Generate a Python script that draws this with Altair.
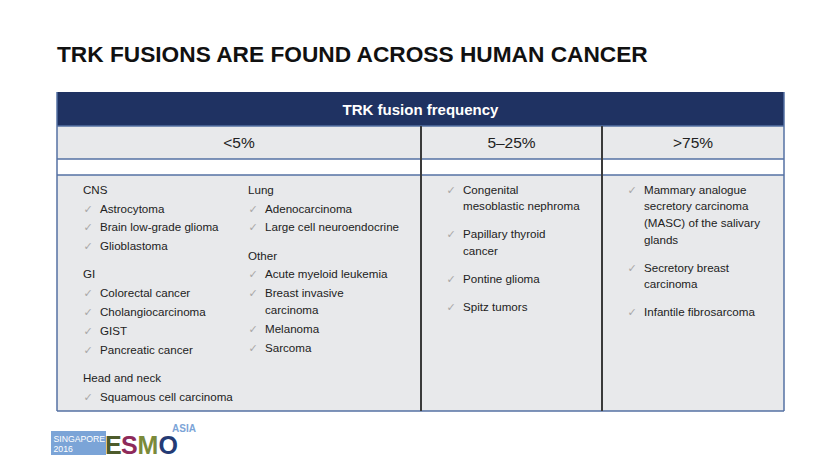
import altair as alt
import pandas as pd

# ---------------- content ----------------
TITLE = "TRK FUSIONS ARE FOUND ACROSS HUMAN CANCER"
HEADER = "TRK fusion frequency"
FREQ_BANDS = ["<5%", "5–25%", ">75%"]

LOW_LEFT = [
    ("CNS", [["Astrocytoma"], ["Brain low-grade glioma"], ["Glioblastoma"]]),
    ("GI", [["Colorectal cancer"], ["Cholangiocarcinoma"], ["GIST"], ["Pancreatic cancer"]]),
    ("Head and neck", [["Squamous cell carcinoma"]]),
]
LOW_RIGHT = [
    ("Lung", [["Adenocarcinoma"], ["Large cell neuroendocrine"]]),
    ("Other", [["Acute myeloid leukemia"], ["Breast invasive", "carcinoma"], ["Melanoma"], ["Sarcoma"]]),
]
MID = [["Congenital", "mesoblastic nephroma"], ["Papillary thyroid", "cancer"],
       ["Pontine glioma"], ["Spitz tumors"]]
HIGH = [["Mammary analogue", "secretory carcinoma", "(MASC) of the salivary", "glands"],
        ["Secretory breast", "carcinoma"], ["Infantile fibrosarcoma"]]

CHECK = "✓"
LOGO_BOX = ["SINGAPORE", "2016"]
LOGO_LETTERS = ["E", "S", "M", "O"]
LOGO_COLORS = ["#4d5b2b", "#8e2a5a", "#7b8a3a", "#243b75"]
LOGO_TAG = "ASIA"

# ---------------- layout ----------------
FONT = "Liberation Sans, Arial, Helvetica, sans-serif"
W, H = 814, 451
TL, TR, C1, C2 = 57, 784, 421, 602
Y_TOP, Y_H1, Y_H2, Y_H3, Y_BOT = 92, 126, 159, 175, 411
LINE, WRAP, GAP, Y0 = 18.85, 16.6, 9.3, 190.7
NAVY = "#1f3262"
GREY = "#e8e9eb"
BLUE_LINE = "#5470a3"
TXT = "#222222"

xs = alt.Scale(domain=[8, 8 + W], nice=False, zero=False)
ys = alt.Scale(domain=[8, 8 + H], nice=False, zero=False, reverse=True)


def flow(blocks, y):
    out = []
    first = True
    for kind, lines, gap in blocks:
        if not first:
            y += LINE + (GAP if gap else 0)
        first = False
        for j, ln in enumerate(lines):
            if j:
                y += WRAP
            out.append((kind, ln, y, j == 0))
    return out


def grouped(groups):
    blocks = []
    for i, (g, items) in enumerate(groups):
        blocks.append(("head", [g], i > 0))
        for it in items:
            blocks.append(("item", it, False))
    return blocks


def plain(items):
    return [("item", it, i > 0) for i, it in enumerate(items)]


body_rows, check_rows = [], []
for blocks, x_head, x_item in [
    (grouped(LOW_LEFT), 83, 100),
    (grouped(LOW_RIGHT), 248, 265),
    (plain(MID), None, 463),
    (plain(HIGH), None, 644),
]:
    for kind, txt, y, firstline in flow(blocks, Y0):
        x = x_head if kind == "head" else x_item
        body_rows.append({"t": txt, "x": x, "y": y})
        if kind == "item" and firstline:
            check_rows.append({"t": CHECK, "x": x_item - 12, "y": y})

body_df = pd.DataFrame(body_rows)
check_df = pd.DataFrame(check_rows)

rects = pd.DataFrame([
    {"x": TL, "x2": TR, "y": Y_TOP, "y2": Y_H1, "c": NAVY},
    {"x": TL, "x2": TR, "y": Y_H1, "y2": Y_H2, "c": GREY},
    {"x": TL, "x2": TR, "y": Y_H2, "y2": Y_H3, "c": "#ffffff"},
    {"x": TL, "x2": TR, "y": Y_H3, "y2": Y_BOT, "c": GREY},
    {"x": 51, "x2": 106, "y": 431, "y2": 455, "c": "#7ba4d7"},
])

hlines = pd.DataFrame([
    {"x": TL, "x2": TR, "y": Y_H1, "y2": Y_H1},
    {"x": TL, "x2": TR, "y": Y_H2, "y2": Y_H2},
    {"x": TL, "x2": TR, "y": Y_H3, "y2": Y_H3},
    {"x": TL, "x2": TR, "y": Y_BOT, "y2": Y_BOT},
    {"x": TL, "x2": TL, "y": Y_TOP, "y2": Y_BOT},
    {"x": TR, "x2": TR, "y": Y_TOP, "y2": Y_BOT},
])
vlines = pd.DataFrame([
    {"x": C1, "x2": C1, "y": Y_H1, "y2": Y_BOT},
    {"x": C2, "x2": C2, "y": Y_H1, "y2": Y_BOT},
])

X = lambda f="x": alt.X(f + ":Q", scale=xs, axis=None)
Y = lambda f="y": alt.Y(f + ":Q", scale=ys, axis=None)

rect_layer = alt.Chart(rects).mark_rect().encode(
    x=X(), x2="x2:Q", y=Y(), y2="y2:Q", color=alt.Color("c:N", scale=None)
)
hline_layer = alt.Chart(hlines).mark_rule(color=BLUE_LINE, strokeWidth=1.5).encode(
    x=X(), x2="x2:Q", y=Y(), y2="y2:Q"
)
vline_layer = alt.Chart(vlines).mark_rule(color="#3a3a3a", strokeWidth=2).encode(
    x=X(), x2="x2:Q", y=Y(), y2="y2:Q"
)


def text_layer(df, **kw):
    base = dict(font=FONT, baseline="middle", align="left")
    base.update(kw)
    return alt.Chart(df).mark_text(**base).encode(x=X(), y=Y(), text="t:N")


title_layer = text_layer(pd.DataFrame([{"t": TITLE, "x": TL, "y": 55}]),
                         fontSize=22.7, fontWeight="bold", color="#111111")
header_layer = text_layer(pd.DataFrame([{"t": HEADER, "x": (TL + TR) / 2, "y": 110}]),
                          fontSize=15, fontWeight="bold", color="#ffffff", align="center")
band_layer = text_layer(pd.DataFrame({"t": FREQ_BANDS,
                                      "x": [(TL + C1) / 2, (C1 + C2) / 2, (C2 + TR) / 2],
                                      "y": [143] * 3}),
                        fontSize=15.5, color=TXT, align="center")
body_layer = text_layer(body_df, fontSize=11.6, color=TXT)
check_layer = text_layer(check_df, fontSize=11, color="#a8a8a8", align="center",
                         font="DejaVu Sans")

logo_box_layer = text_layer(pd.DataFrame({"t": LOGO_BOX, "x": [53.5, 53.5], "y": [438.5, 449]}),
                            fontSize=8.7, color="#ffffff")
logo_letters_layer = alt.Chart(pd.DataFrame({"t": LOGO_LETTERS, "c": LOGO_COLORS,
                                             "x": [105, 121, 137.5, 158.5],
                                             "y": [453.5] * 4})).mark_text(
    font=FONT, fontSize=25, fontWeight="bold", align="left", baseline="alphabetic"
).encode(x=X(), y=Y(), text="t:N", color=alt.Color("c:N", scale=None))
logo_tag_layer = text_layer(pd.DataFrame([{"t": LOGO_TAG, "x": 172, "y": 428.5}]),
                            fontSize=10, fontWeight="bold", color="#7ba4d7")

chart = alt.layer(
    rect_layer, hline_layer, vline_layer,
    title_layer, header_layer, band_layer, body_layer, check_layer,
    logo_box_layer, logo_letters_layer, logo_tag_layer,
).properties(
    width=W, height=H, autosize=alt.AutoSizeParams(type="none"), padding=0,
    background="#ffffff",
).configure_view(stroke=None)

chart.save("out.html", embed_options={"renderer": "svg", "actions": False})
